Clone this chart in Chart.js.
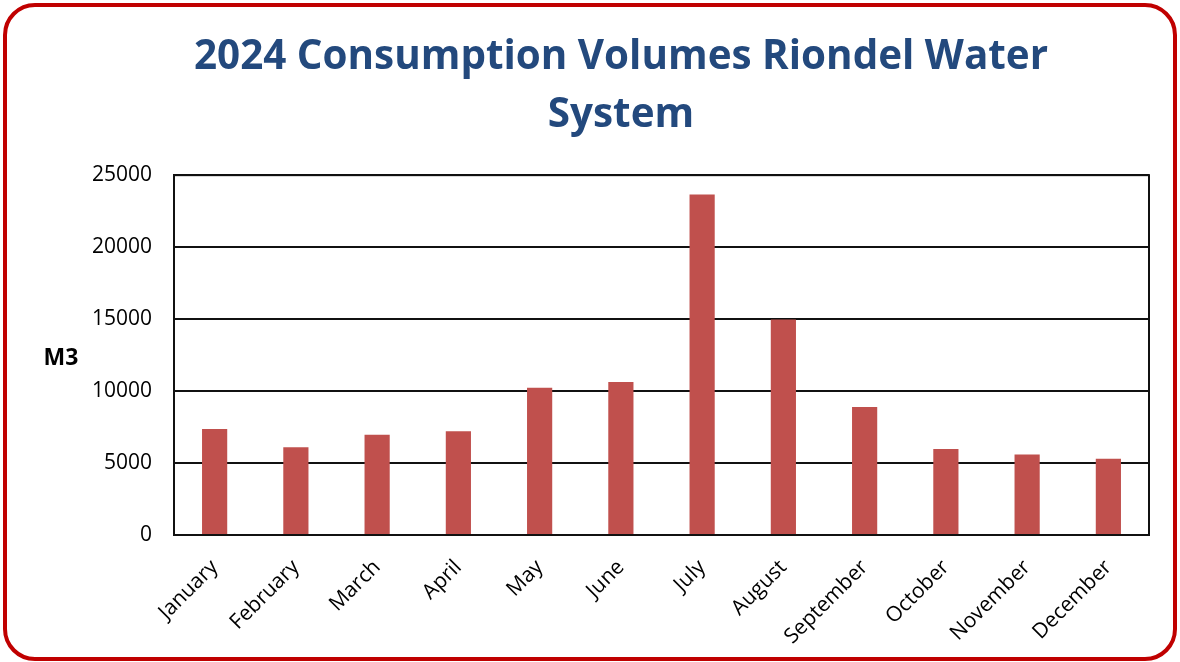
<!DOCTYPE html>
<html>
<head>
<meta charset="utf-8">
<script src="https://cdn.jsdelivr.net/npm/chart.js@4"></script>
<style>
  body { margin: 0; background: #fff; }
  #wrap { position: relative; width: 1180px; height: 662px; overflow: hidden; }
  #frame {
    position: absolute; left: 3px; top: 3px; width: 1174px; height: 658px;
    box-sizing: border-box; border: 4px solid #c00000; border-radius: 32px;
    pointer-events: none;
  }
  canvas { position: absolute; left: 0; top: 0; }
</style>
</head>
<body>
<div id="wrap">
  <canvas id="chart" width="1180" height="662"></canvas>
  <div id="frame"></div>
</div>
<script>
const months = ["January", "February", "March", "April", "May", "June",
  "July", "August", "September", "October", "November", "December"];
const volumes = [7360, 6090, 6960, 7200, 10230, 10630, 23660, 14980, 8890, 5970, 5600, 5300];
const yTicks = [0, 5000, 10000, 15000, 20000, 25000];

// horizontal "M3" label and box round the plot
const extras = {
  id: "extras",
  afterDraw(chart) {
    const { ctx, chartArea: a } = chart;
    ctx.save();
    ctx.strokeStyle = "#111";
    ctx.lineWidth = 2;
    ctx.strokeRect(a.left, a.top, a.right - a.left, a.bottom - a.top);
    ctx.fillStyle = "#000";
    ctx.font = "bold 23px 'Open Sans'";
    ctx.textAlign = "center";
    ctx.textBaseline = "middle";
    ctx.fillText("M3", 61, 358);
    ctx.restore();
  },
};

new Chart(document.getElementById("chart"), {
  type: "bar",
  data: {
    labels: months,
    datasets: [{
      data: volumes,
      backgroundColor: "#c0504d",
      barPercentage: 0.31,
      categoryPercentage: 1,
    }],
  },
  options: {
    responsive: false,
    animation: false,
    layout: { padding: { left: 70, right: 8, top: 0, bottom: 4 } },
    plugins: {
      legend: { display: false },
      tooltip: { enabled: false },
      title: {
        display: true,
        text: ["2024 Consumption Volumes Riondel Water", "System"],
        color: "#23497d",
        font: { family: "'Open Sans'", size: 40.4, weight: "bold", lineHeight: 1.45 },
        padding: { top: 28, bottom: 30 },
      },
    },
    scales: {
      x: {
        grid: { display: false },
        border: { color: "#111", width: 2 },
        ticks: {
          color: "#000",
          font: { family: "'Open Sans'", size: 21 },
          maxRotation: 45,
          minRotation: 45,
          padding: 12,
        },
        afterFit: (s) => { s.height = 123; },
      },
      y: {
        min: 0,
        max: 25000,
        afterBuildTicks: (s) => { s.ticks = yTicks.map((v) => ({ value: v })); },
        afterFit: (s) => { s.width = 104; },
        grid: { color: "#111", lineWidth: 2, drawTicks: false },
        border: { color: "#111", width: 2 },
        ticks: {
          color: "#000",
          font: { family: "'Open Sans'", size: 21 },
          padding: 22,
          callback: (v) => String(v),
        },
      },
      // empty right axis only to keep the plot's right edge in place
      y2: {
        position: "right",
        grid: { display: false },
        border: { display: false },
        ticks: { display: false },
        afterFit: (s) => { s.width = 23; },
      },
    },
  },
  plugins: [extras],
});
</script>
</body>
</html>
